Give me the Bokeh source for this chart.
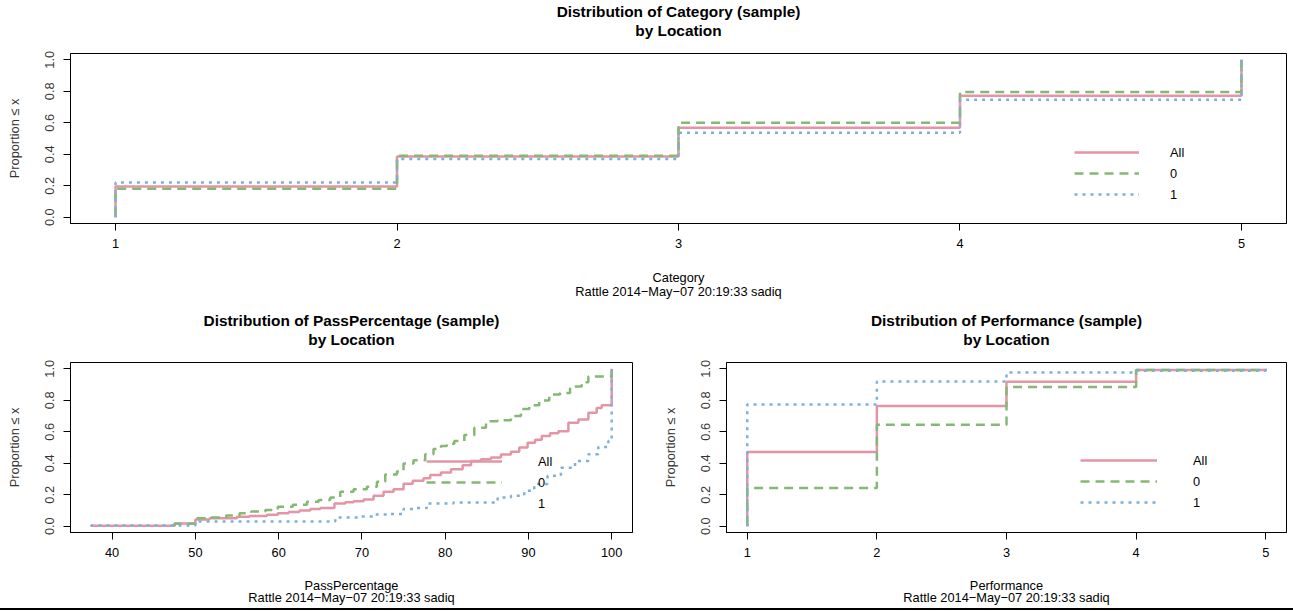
from bokeh.plotting import figure
from bokeh.layouts import column, row
from bokeh.models import (Range1d, FixedTicker, Legend, LegendItem, Title, LinearAxis,
                          NumeralTickFormatter, Div)
from bokeh.embed import file_html
from bokeh.resources import INLINE

FONT = "Liberation Sans"
PINK, GREEN, BLUE = "#E495A5", "#86B875", "#7DB0DD"
series_labels = ["All", "0", "1"]
stamp = "Rattle 2014\u2212May\u221207 20:19:33 sadiq"

# ---- Category ECDF ----
cat_x = [1, 2, 3, 4, 5]
cat_all = [0.195, 0.386, 0.569, 0.771, 1.0]
cat_0 = [0.18, 0.39, 0.60, 0.796, 1.0]
cat_1 = [0.22, 0.37, 0.537, 0.746, 1.0]

# ---- Performance ECDF ----
perf_x = [1, 2, 3, 4, 5]
perf_all = [0.472, 0.764, 0.918, 0.992, 1.0]
perf_0 = [0.242, 0.644, 0.884, 0.993, 1.0]
perf_1 = [0.773, 0.92, 0.977, 0.987, 1.0]

# ---- PassPercentage ECDF ----
pass_all_x = [37.5, 47.5, 50, 51.7, 55, 56.5, 58.6, 59.9, 61.2, 62.5, 63.8, 65, 66.7, 68, 69,
              70.2, 71.4, 72.6, 73.8, 75, 76.1, 77.4, 78.2, 79.5, 80.7, 82.1, 83.1, 84.3,
              85.5, 86.7, 87.9, 88.9, 89.9, 90.8, 91.6, 92.6, 93.6, 94.8, 96, 97.2, 98.2,
              98.8, 100]
pass_all_y = [0.003, 0.017, 0.042, 0.05, 0.06, 0.065, 0.072, 0.082, 0.09, 0.099, 0.11, 0.115,
              0.145, 0.152, 0.158, 0.17, 0.194, 0.219, 0.234, 0.27, 0.288, 0.305, 0.326, 0.341,
              0.362, 0.388, 0.415, 0.425, 0.436, 0.455, 0.473, 0.50, 0.53, 0.55, 0.573, 0.59,
              0.604, 0.657, 0.678, 0.72, 0.751, 0.768, 1.0]
pass_0_x = [47.5, 50, 51.9, 53.7, 55.3, 56.7, 58.4, 59.9, 61.7, 63.4, 64.8, 66.2, 67.4, 69,
            70.6, 71.8, 72.8, 74.2, 75, 76.2, 77.6, 78.6, 79.5, 80.2, 81.1, 82.3, 83.5, 84.9,
            86.3, 87.9, 89.1, 90.1, 91.3, 92.5, 93.8, 95, 96.4, 97.2, 100]
pass_0_y = [0.015, 0.05, 0.055, 0.068, 0.082, 0.093, 0.103, 0.124, 0.137, 0.156, 0.167, 0.183,
            0.219, 0.234, 0.25, 0.282, 0.328, 0.347, 0.398, 0.419, 0.457, 0.49, 0.51, 0.524,
            0.541, 0.58, 0.625, 0.667, 0.673, 0.70, 0.745, 0.768, 0.798, 0.836, 0.846, 0.888,
            0.915, 0.951, 1.0]
pass_1_x = [37.5, 50, 66.8, 69.8, 71.4, 73, 75, 76.6, 77.8, 81, 86.3, 87.9, 89.5, 90.7, 92.3,
            93.9, 95.6, 97.2, 98.4, 99.6, 100]
pass_1_y = [0.005, 0.03, 0.055, 0.061, 0.074, 0.078, 0.11, 0.116, 0.145, 0.15, 0.183, 0.194,
            0.225, 0.268, 0.32, 0.372, 0.415, 0.457, 0.503, 0.541, 1.0]

y_ticks = [0.0, 0.2, 0.4, 0.6, 0.8, 1.0]


def ecdf_pts(xs, ys):
    # ECDF drawn from (min, 0)
    return [xs[0]] + list(xs), [0.0] + list(ys)


def make_fig(fw, fh, left, right, top, bottom, xr, xticks):
    p = figure(frame_width=fw, frame_height=fh, x_range=Range1d(*xr),
               y_range=Range1d(-0.04, 1.04), output_backend="svg",
               toolbar_location=None, title=None,
               min_border_left=left, min_border_right=right,
               min_border_top=top, min_border_bottom=bottom)
    p.xgrid.visible = False
    p.ygrid.visible = False
    p.outline_line_color = "black"
    p.outline_line_width = 1
    p.background_fill_color = "white"
    p.border_fill_color = "white"
    p.xaxis.ticker = FixedTicker(ticks=xticks)
    p.yaxis.ticker = FixedTicker(ticks=y_ticks)
    p.yaxis.formatter = NumeralTickFormatter(format="0.0")
    for ax in (p.xaxis[0], p.yaxis[0]):
        ax.major_tick_out = 7
        ax.major_tick_in = 0
        ax.minor_tick_out = 0
        ax.minor_tick_in = 0
        ax.axis_line_color = "black"
        ax.major_tick_line_color = "black"
        ax.major_label_text_font = FONT
        ax.major_label_text_font_size = "12.8px"
        ax.axis_label_text_font = FONT
        ax.axis_label_text_font_size = "12.8px"
        ax.axis_label_text_font_style = "normal"
    p.xaxis.major_label_text_color = "black"
    p.xaxis.major_label_standoff = 8
    p.xaxis.axis_label_text_color = "black"
    p.yaxis.major_label_text_color = "#333333"
    p.yaxis.major_label_orientation = "vertical"
    p.yaxis.major_label_standoff = 9
    p.yaxis.axis_label = "Proportion \u2264 x"
    p.yaxis.axis_label_text_color = "#333333"
    p.yaxis.axis_label_standoff = 21
    return p


def add_steps(p, data):
    styles = [(PINK, "solid"), (GREEN, "9 6"), (BLUE, "3 5")]
    rs = []
    for (xs, ys), (c, d) in zip(data, styles):
        sx, sy = ecdf_pts(xs, ys)
        rs.append(p.step(x=sx, y=sy, mode="after", line_color=c, line_width=2.5,
                         line_dash=d))
    return rs


def add_texts(p, title, xlab, xlab_standoff, stamp_standoff):
    bottom_axis = p.below[0]
    bottom_axis.axis_label = xlab
    bottom_axis.axis_label_standoff = xlab_standoff
    # second title line carried by an empty top axis
    sub = LinearAxis(ticker=FixedTicker(ticks=[]), axis_line_color=None,
                     major_tick_line_color=None, minor_tick_line_color=None,
                     major_tick_out=0, major_tick_in=0, minor_tick_out=0, minor_tick_in=0,
                     major_label_text_font_size="0px", major_label_standoff=0,
                     axis_label="by Location", axis_label_standoff=15,
                     axis_label_text_font=FONT, axis_label_text_font_size="15.4px",
                     axis_label_text_font_style="bold", axis_label_text_color="black")
    p.add_layout(sub, "above")
    p.add_layout(Title(text="Distribution of %s (sample)" % title, align="center",
                       vertical_align="bottom", standoff=-2, text_font=FONT,
                       text_font_size="15.4px", text_font_style="bold",
                       text_color="black"), "above")
    p.add_layout(Title(text=stamp, align="center", vertical_align="top",
                       standoff=stamp_standoff,
                       text_font=FONT, text_font_size="12.8px", text_font_style="normal",
                       text_color="black"), "below")


def add_legend(p, items, loc, gw, standoff):
    lg = Legend(items=items, location=loc, orientation="vertical", glyph_width=gw,
                glyph_height=20, label_height=20, label_standoff=standoff, spacing=1,
                padding=0, margin=0, border_line_alpha=0, background_fill_alpha=0,
                label_text_font=FONT, label_text_font_size="12.8px",
                label_text_color="black")
    p.add_layout(lg)


# ---- top: Category ----
top = make_fig(1216, 170, 70, 7, 53, 77, (0.84, 5.16), cat_x)
r = add_steps(top, [(cat_x, cat_all), (cat_x, cat_0), (cat_x, cat_1)])
add_texts(top, "Category", "Category", 19, -8)
add_legend(top, [LegendItem(label=l, renderers=[rr]) for l, rr in zip(series_labels, r)],
           (1004, 19), 65, 31)

# ---- bottom left: PassPercentage ----
bl = make_fig(562, 170, 70, 24, 62, 76, (35, 102.5), [40, 50, 60, 70, 80, 90, 100])
r = add_steps(bl, [(pass_all_x, pass_all_y), (pass_0_x, pass_0_y), (pass_1_x, pass_1_y)])
add_texts(bl, "PassPercentage", "PassPercentage", 18, -11)
hidden = bl.line(x=[], y=[], line_alpha=0)
add_legend(bl, [LegendItem(label="All", renderers=[r[0]]),
                LegendItem(label="0", renderers=[r[1]]),
                LegendItem(label="1", renderers=[hidden])], (356, 19), 76, 36)

# ---- bottom right: Performance ----
br = make_fig(560, 170, 70, 7, 62, 76, (0.84, 5.16), perf_x)
r = add_steps(br, [(perf_x, perf_all), (perf_x, perf_0), (perf_x, perf_1)])
add_texts(br, "Performance", "Performance", 18, -11)
add_legend(br, [LegendItem(label=l, renderers=[rr]) for l, rr in zip(series_labels, r)],
           (354, 20), 77, 36)

# bottom rule
rule = Div(text="", width=1293, height=2, margin=0,
           styles={"background-color": "black", "display": "block"})

layout = column(top, row(bl, br, spacing=0), rule, spacing=0)
open("out.html", "w").write(file_html(layout, INLINE))
